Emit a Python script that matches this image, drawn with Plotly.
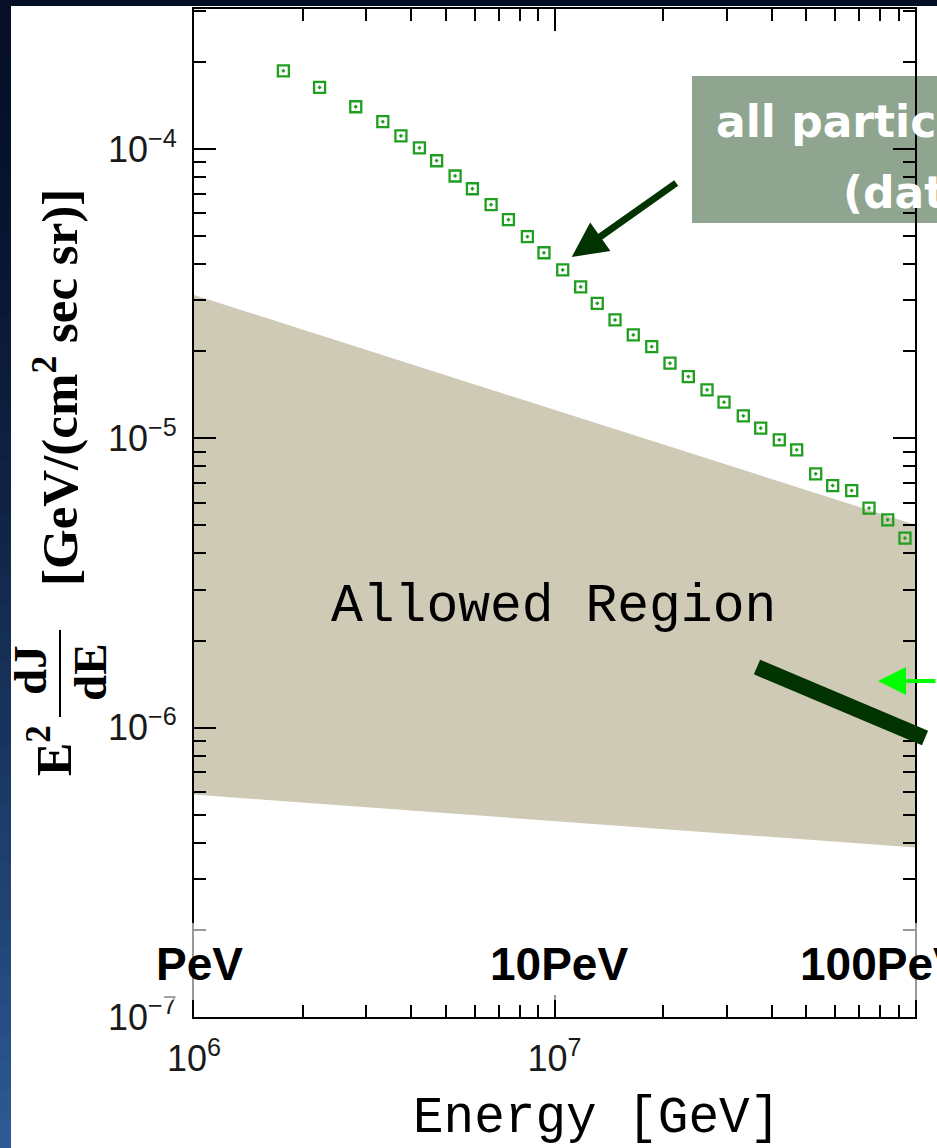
import numpy as np
import plotly.graph_objects as go

# All-particle cosmic-ray flux: energy [GeV] and E^2 dJ/dE [GeV/(cm^2 sec sr)]
energy = [1.77e6, 2.23e6, 2.81e6, 3.34e6, 3.75e6, 4.22e6, 4.71e6, 5.30e6, 5.92e6, 6.67e6,
          7.45e6, 8.41e6, 9.35e6, 1.054e7, 1.182e7, 1.314e7, 1.472e7, 1.654e7, 1.861e7, 2.091e7,
          2.351e7, 2.649e7, 2.953e7, 3.340e7, 3.733e7, 4.203e7, 4.697e7, 5.303e7, 5.911e7, 6.675e7,
          7.455e7, 8.40e7, 9.38e7]
flux = [1.864e-4, 1.633e-4, 1.400e-4, 1.243e-4, 1.111e-4, 1.010e-4, 9.11e-5, 8.07e-5, 7.29e-5, 6.42e-5,
        5.70e-5, 4.98e-5, 4.38e-5, 3.82e-5, 3.34e-5, 2.93e-5, 2.566e-5, 2.278e-5, 2.075e-5, 1.819e-5,
        1.635e-5, 1.471e-5, 1.334e-5, 1.196e-5, 1.084e-5, 9.88e-6, 9.13e-6, 7.54e-6, 6.87e-6, 6.60e-6,
        5.74e-6, 5.23e-6, 4.52e-6]

# Allowed band (power-law edges)
region_energy = [1e6, 1e8]
region_upper = [3.13e-5, 5.03e-6]
region_lower = [5.87e-7, 3.85e-7]

# Axis ticks
x_tick_vals = [1e6, 1e7, 1e8]
x_tick_text = ["10<sup>6</sup>", "10<sup>7</sup>", "10<sup>8</sup>"]
y_tick_vals = [1e-7, 1e-6, 1e-5, 1e-4]
y_tick_text = ["10<sup>\u22127</sup>", "10<sup>\u22126</sup>", "10<sup>\u22125</sup>", "10<sup>\u22124</sup>"]
x_minor = [m * 10 ** k for k in (6, 7) for m in range(2, 10)]
y_minor = [m * 10.0 ** k for k in (-7, -6, -5, -4) for m in range(2, 10)]

# Energy scale labels
scale_labels = ["PeV", "10PeV", "100PeV"]
scale_energy = [1e6, 1e7, 1e8]
scale_shift = [5, 4, -33]

W, H = 937, 1148
L, R, T, B = 194, 22, 9, 131


def px(x):
    return (x - L) / (W - L - R)


def py(y):
    return (H - B - y) / (H - T - B)


fig = go.Figure()

# allowed region polygon
fig.add_trace(go.Scatter(
    x=region_energy + region_energy[::-1],
    y=region_upper + region_lower[::-1],
    mode="lines", fill="toself", fillcolor="#cfcab6",
    line=dict(width=0), hoverinfo="skip", showlegend=False))

# measured points
fig.add_trace(go.Scatter(
    x=energy, y=flux, mode="markers",
    marker=dict(symbol="square-open-dot", size=11, color="#1f9e1f",
                line=dict(width=2.3, color="#1f9e1f")),
    showlegend=False))

axis_font = dict(family="Liberation Sans, Arial, sans-serif", size=36, color="#1a1a1a")
common = dict(showline=True, linecolor="black", linewidth=2, mirror="ticks",
              ticks="inside", ticklen=22, tickwidth=2, tickcolor="black",
              showgrid=False, zeroline=False, tickfont=axis_font)

fig.update_xaxes(type="log", range=[6, 8], tickmode="array",
                 tickvals=x_tick_vals, ticktext=x_tick_text, ticklabelstandoff=9,
                 minor=dict(ticks="inside", ticklen=12, tickwidth=2, tickcolor="black",
                            tickmode="array", tickvals=x_minor, showgrid=False),
                 **common)
fig.update_yaxes(type="log", range=[-7, -3.516], tickmode="array",
                 tickvals=y_tick_vals, ticktext=y_tick_text, ticklabelstandoff=8,
                 minor=dict(ticks="inside", ticklen=12, tickwidth=2, tickcolor="black",
                            tickmode="array", tickvals=y_minor, showgrid=False),
                 **common)

shapes = []
# slide background: white panel over dark frame
shapes.append(dict(type="rect", xref="paper", yref="paper", layer="below",
                   x0=px(11), x1=px(W + 20), y0=py(6), y1=py(H + 20),
                   fillcolor="white", line=dict(width=0)))
# left frame gradient
n = 40
top_c = np.array([5, 16, 40])
bot_c = np.array([46, 92, 152])
for i in range(n):
    t = (i + 0.5) / n
    c = top_c + (bot_c - top_c) * t ** 1.6
    shapes.append(dict(type="rect", xref="paper", yref="paper", layer="below",
                       x0=px(0), x1=px(11), y0=py(H * i / n), y1=py(H * (i + 1) / n + 1),
                       fillcolor="rgb(%d,%d,%d)" % tuple(c.astype(int)), line=dict(width=0)))
# label box for the data arrow
shapes.append(dict(type="rect", xref="paper", yref="paper", layer="below",
                   x0=px(692), x1=px(W + 20), y0=py(76), y1=py(223),
                   fillcolor="#8fa58f", line=dict(width=0)))
# thick pointer line
shapes.append(dict(type="line", xref="paper", yref="paper", layer="above",
                   x0=px(757), y0=py(667), x1=px(925), y1=py(738),
                   line=dict(color="#003300", width=16)))
# fraction bar of the y title
shapes.append(dict(type="line", xref="paper", yref="paper", layer="above",
                   x0=px(60), x1=px(60), y0=py(630), y1=py(717),
                   line=dict(color="black", width=2)))
# translucent strip behind the energy scale labels
shapes.append(dict(type="rect", xref="paper", yref="paper", layer="above",
                   x0=px(140), x1=px(W + 20), y0=py(1000), y1=py(923),
                   fillcolor="rgba(255,255,255,0.6)", line=dict(width=0)))

serif = dict(family="Liberation Serif, Times New Roman, serif", color="black", weight="bold")
mono = dict(family="Liberation Mono, Courier New, monospace", color="black")
box_font = dict(family="DejaVu Sans, Verdana, sans-serif", size=44, color="white", weight="bold")
annotations = [
    dict(text="[GeV/(cm<sup>2</sup> sec sr)]", x=px(56), y=py(388), textangle=-90,
         font=dict(size=51, **serif)),
    dict(text="E<sup>2</sup>", x=px(50), y=py(751), textangle=-90, font=dict(size=50, **serif)),
    dict(text="dJ", x=px(30), y=py(670), textangle=-90, font=dict(size=47, **serif)),
    dict(text="dE", x=px(90), y=py(672), textangle=-90, font=dict(size=47, **serif)),
    dict(text="Allowed Region", x=px(553), y=py(607), font=dict(size=53, **mono)),
    dict(text="Energy [GeV]", x=px(596), y=py(1118), font=dict(size=51, **mono)),
    dict(text="all particle spectrum", x=px(714), y=py(121), xanchor="left", font=box_font),
    dict(text="(data)", x=px(841), y=py(192), xanchor="left", font=box_font),
]
for a in annotations:
    a.update(xref="paper", yref="paper", showarrow=False)
    a.setdefault("xanchor", "center")
    a.setdefault("yanchor", "middle")

for lab, e, s in zip(scale_labels, scale_energy, scale_shift):
    annotations.append(dict(text=lab, x=np.log10(e), xref="x", y=py(964), yref="paper",
                            xshift=s, showarrow=False, xanchor="center", yanchor="middle",
                            font=dict(family="Liberation Sans, Arial, sans-serif", size=46,
                                      color="black", weight="bold")))

# arrow to the measured spectrum
annotations.append(dict(text="", x=np.log10(energy[13]), y=np.log10(flux[13]), xref="x", yref="y",
                        xshift=9, yshift=13, showarrow=True, ax=106, ay=-75,
                        arrowhead=2, arrowsize=1.0, arrowwidth=7, arrowcolor="#003300"))
# small bright arrow at the right edge
annotations.append(dict(text="", x=px(878), y=py(681), xref="paper", yref="paper",
                        showarrow=True, ax=75, ay=0,
                        arrowhead=2, arrowsize=1.4, arrowwidth=4, arrowcolor="#00ff00"))

fig.update_layout(
    width=W, height=H, margin=dict(l=L, r=R, t=T, b=B, autoexpand=False),
    paper_bgcolor="#050f24", plot_bgcolor="rgba(0,0,0,0)",
    shapes=shapes, annotations=annotations, showlegend=False)

fig.write_html("out.html")
